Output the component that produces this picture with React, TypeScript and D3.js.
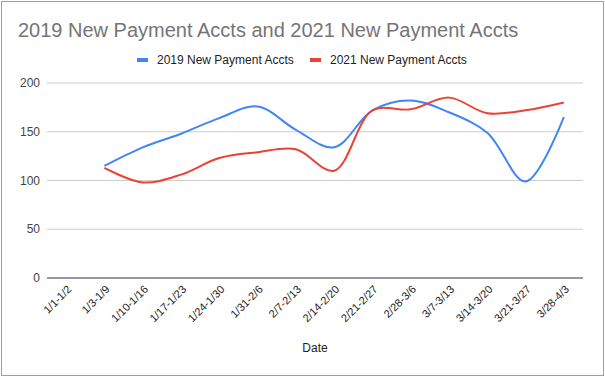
import React, { useEffect, useRef } from "react";
import * as d3 from "d3";

const categories = ["1/1-1/2","1/3-1/9","1/10-1/16","1/17-1/23","1/24-1/30","1/31-2/6","2/7-2/13","2/14-2/20","2/21-2/27","2/28-3/6","3/7-3/13","3/14-3/20","3/21-3/27","3/28-4/3"];
const series2019: (number | null)[] = [null,115,134,148,164,176,152,134,172,182,170,149,99,165];
const series2021: (number | null)[] = [null,113,98,106,123,129,132,110,172,173,185,169,172,180];
const yTicks = [0, 50, 100, 150, 200];
const seriesNames = ["2019 New Payment Accts", "2021 New Payment Accts"];
const colors = ["#4285F4", "#EA4335"];

const W = 605, H = 377;
const M = { left: 47, right: 22, top: 83, bottom: 99 };

export default function App() {
  const ref = useRef<SVGSVGElement>(null);
  useEffect(() => {
    const svg = d3.select(ref.current);
    svg.selectAll("*").remove();
    const font = "Arial, 'Liberation Sans', sans-serif";
    svg.append("rect").attr("x", 0).attr("y", 0).attr("width", W).attr("height", H).attr("fill", "#fff");
    svg.append("rect").attr("x", 1.5).attr("y", 1.5).attr("width", W - 3).attr("height", H - 3)
      .attr("fill", "#fff").attr("stroke", "#9e9e9e").attr("stroke-width", 1);

    const x = d3.scaleBand<string>().domain(categories).range([M.left, W - M.right]).padding(0);
    const y = d3.scaleLinear().domain([0, 200]).range([H - M.bottom, M.top]);
    const cx = (c: string) => (x(c) as number) + x.bandwidth() / 2;

    // title
    svg.append("text").attr("x", 18).attr("y", 37).attr("font-family", font).attr("font-size", 20)
      .attr("fill", "#757575").text("2019 New Payment Accts and 2021 New Payment Accts");

    // legend
    const lg = svg.append("g");
    const lx = [137, 310];
    seriesNames.forEach((n, i) => {
      lg.append("rect").attr("x", lx[i]).attr("y", 58).attr("width", 11).attr("height", 4).attr("fill", colors[i]);
      lg.append("text").attr("x", lx[i] + 20).attr("y", 64).attr("font-family", font).attr("font-size", 12)
        .attr("fill", "#222").text(n);
    });

    // gridlines
    const gy = svg.append("g");
    yTicks.forEach(t => {
      gy.append("line").attr("x1", M.left).attr("x2", W - M.right).attr("y1", y(t)).attr("y2", y(t))
        .attr("stroke", t === 0 ? "#333" : "#ccc").attr("stroke-width", 1);
      gy.append("text").attr("x", 40).attr("y", y(t) + 4).attr("text-anchor", "end")
        .attr("font-family", font).attr("font-size", 12).attr("fill", "#444").text(String(t));
    });

    // x labels
    const gx = svg.append("g");
    categories.forEach(c => {
      const px = cx(c) + 6, py = H - M.bottom + 12;
      gx.append("text").attr("transform", `translate(${px},${py}) rotate(-45)`).attr("text-anchor", "end")
        .attr("font-family", font).attr("font-size", 11).attr("fill", "#222").text(c);
    });
    svg.append("text").attr("x", 315).attr("y", 352).attr("text-anchor", "middle")
      .attr("font-family", font).attr("font-size", 12).attr("fill", "#222").text("Date");

    const line = d3.line<number | null>()
      .defined(d => d !== null)
      .x((_, i) => cx(categories[i]))
      .y(d => y(d as number))
      .curve(d3.curveCatmullRom.alpha(0.5));
    [series2019, series2021].forEach((s, i) => {
      svg.append("path").attr("d", line(s) as string).attr("fill", "none")
        .attr("stroke", colors[i]).attr("stroke-width", 2);
    });
  }, []);
  return (
    <svg ref={ref} width={W} height={H} style={{ position: "absolute", left: 0, top: 0, display: "block" }} />
  );
}
